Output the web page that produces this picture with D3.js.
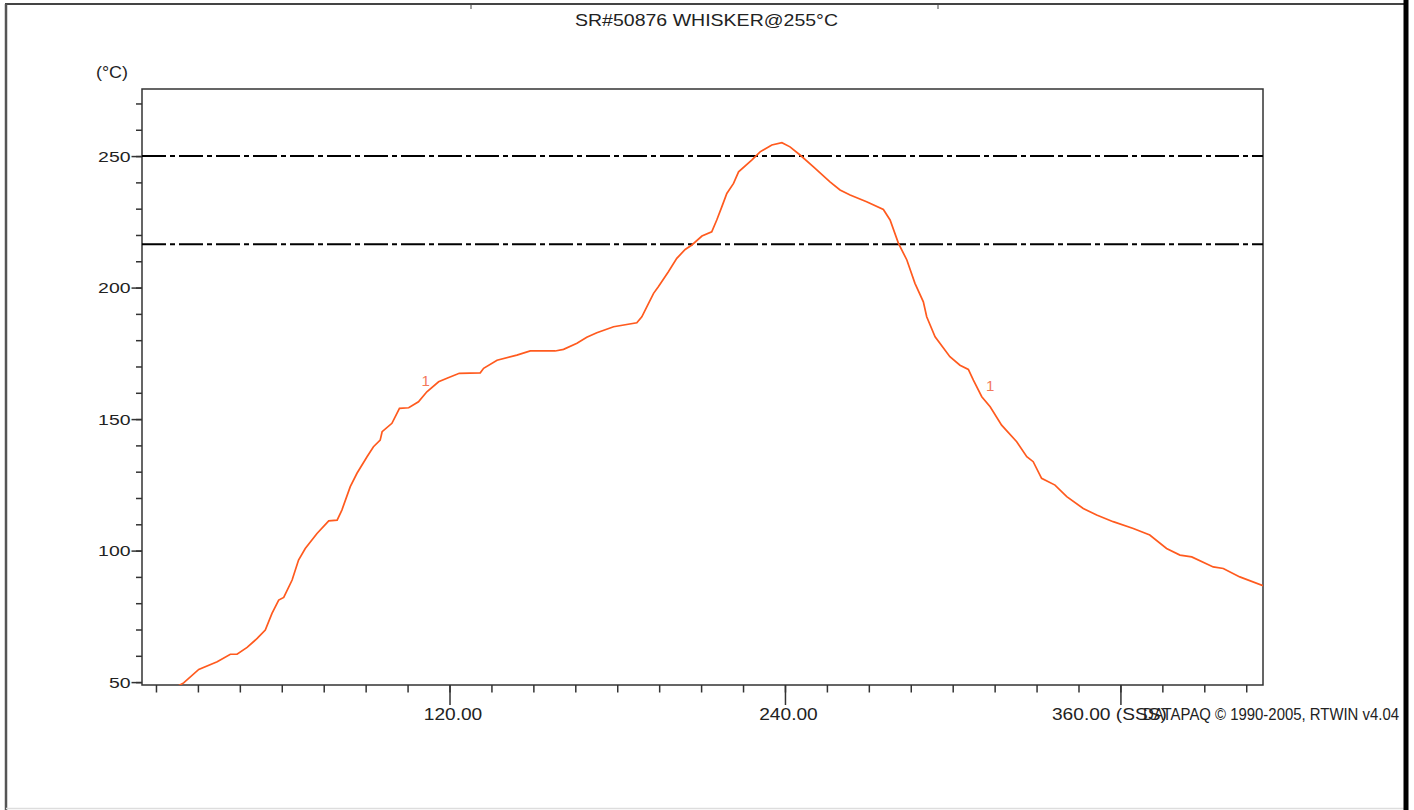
<!DOCTYPE html>
<html>
<head>
<meta charset="utf-8">
<script src="https://cdn.jsdelivr.net/npm/d3@7"></script>
<style>
  html, body { margin: 0; padding: 0; background: #fff; }
  svg { display: block; }
  text { font-family: "Liberation Sans", Arial, sans-serif; fill: #222; }
</style>
</head>
<body>
<script>
// ---- data ----
const timeSec = [22.0, 24.9, 30.3, 36.9, 41.6, 44.0, 47.6, 51.2, 54.1, 56.5, 58.9, 60.7, 63.7, 66.0, 68.4,
  72.6, 76.8, 79.8, 81.5, 84.5, 86.9, 90.5, 92.8, 95.2, 95.9, 99.4, 102.1, 105.4, 108.9, 111.9, 116.1,
  119.1, 123.5, 131.0, 132.2, 137.0, 144.1, 148.9, 157.8, 160.8, 165.6, 169.1, 172.7, 178.7, 187.0,
  188.8, 191.2, 193.0, 194.7, 198.3, 201.3, 204.3, 206.7, 210.3, 213.8, 215.6, 217.4, 219.2, 221.6,
  223.4, 228.1, 231.1, 235.3, 238.9, 241.8, 245.4, 250.2, 256.1, 259.7, 263.3, 269.2, 275.2, 277.6,
  280.6, 283.6, 286.5, 289.5, 290.7, 293.7, 299.0, 302.6, 305.6, 307.4, 310.4, 313.4, 317.5, 322.9,
  326.5, 328.8, 331.8, 336.6, 340.8, 346.7, 351.5, 357.4, 364.6, 370.5, 376.5, 381.3, 385.5, 393.2,
  396.8, 402.7, 411.0];
const tempC = [48.0, 49.7, 54.8, 57.7, 60.6, 60.6, 63.2, 66.6, 69.8, 76.1, 81.2, 82.2, 88.8, 96.4, 100.8,
  106.5, 111.3, 111.6, 115.4, 124.3, 129.4, 135.7, 139.5, 142.0, 145.2, 148.4, 154.1, 154.3, 156.6, 160.4, 164.2,
  165.5, 167.4, 167.6, 169.3, 172.4, 174.3, 175.9, 175.9, 176.5, 178.8, 181.1, 182.8, 185.1, 186.6,
  188.9, 194.0, 197.8, 200.3, 206.0, 211.1, 214.5, 216.2, 219.6, 221.2, 225.7, 230.7, 235.8, 239.6,
  244.0, 248.5, 251.6, 254.2, 255.1, 253.5, 250.4, 245.9, 240.2, 237.1, 235.2, 232.6, 229.7, 225.7,
  216.8, 210.5, 201.6, 194.6, 188.9, 181.3, 173.7, 170.5, 168.9, 164.8, 158.5, 154.7, 147.7, 141.4,
  135.7, 133.8, 127.5, 124.9, 120.5, 116.0, 113.5, 111.0, 108.4, 105.9, 100.8, 98.3, 97.6, 93.8,
  93.2, 90.0, 86.7];
const limitLines = [250, 216.5];
const yMajorTicks = [50, 100, 150, 200, 250];
const yMinorTicks = d3.range(50, 271, 10);
const xMajorTicks = [120, 240, 360];
const xTickLabels = ["120.00", "240.00", "360.00 (SSS)"];
const xMinorTicks = d3.range(15, 411, 15);
const probeLabels = [{t: 111.5, v: 162.5, name: "1"}, {t: 313.4, v: 160.5, name: "1"}];
const titleText = "SR#50876 WHISKER@255°C";
const unitText = "(°C)";
const footerText = "DATAPAQ © 1990-2005, RTWIN v4.04";

// ---- layout ----
const W = 1414, H = 810;
const L = 142, R = 1263, T = 89, B = 685;

const svg = d3.select("body").append("svg").attr("width", W).attr("height", H);

// page frame
svg.append("line").attr("x1", 5).attr("x2", 1406).attr("y1", 4).attr("y2", 4)
  .attr("stroke", "#444").attr("stroke-width", 2);
svg.append("line").attr("x1", 6).attr("x2", 6).attr("y1", 4).attr("y2", 810)
  .attr("stroke", "#555").attr("stroke-width", 2.5);
svg.append("line").attr("x1", 6).attr("x2", 1404).attr("y1", 808.5).attr("y2", 808.5)
  .attr("stroke", "#ddd").attr("stroke-width", 1.5);
svg.append("rect").attr("x", 1403.5).attr("y", 0).attr("width", 5).attr("height", H).attr("fill", "#000");
[471, 938].forEach(px => svg.append("line").attr("x1", px).attr("x2", px).attr("y1", 4).attr("y2", 9)
  .attr("stroke", "#444").attr("stroke-width", 1));

const x = d3.scaleLinear().domain([10, 411]).range([L, R]);
const y = d3.scaleLinear().domain([48.9, 275.5]).range([B, T]);

// title & unit
svg.append("text").attr("x", 706.5).attr("y", 26).attr("text-anchor", "middle")
  .attr("font-size", 17).attr("textLength", 263).attr("lengthAdjust", "spacingAndGlyphs").text(titleText);
svg.append("text").attr("x", 96).attr("y", 78).attr("font-size", 16)
  .attr("textLength", 32).attr("lengthAdjust", "spacingAndGlyphs").text(unitText);

// y axis minor + major
svg.append("g").attr("transform", `translate(${L},0)`)
  .call(d3.axisLeft(y).tickValues(yMinorTicks).tickSize(6).tickFormat(""))
  .call(g => g.select(".domain").remove())
  .call(g => g.selectAll("line").attr("stroke", "#333").attr("stroke-width", 1.5));
svg.append("g").attr("transform", `translate(${L},0)`)
  .call(d3.axisLeft(y).tickValues(yMajorTicks).tickSize(10.5).tickPadding(1).tickFormat(d3.format("d")))
  .call(g => g.select(".domain").remove())
  .call(g => g.selectAll("line").attr("stroke", "#333").attr("stroke-width", 1.5))
  .call(g => g.selectAll("text").attr("font-size", 15.5).attr("fill", "#222")
    .attr("font-family", "'Liberation Sans', Arial, sans-serif")
    .attr("textLength", d => String(d).length * 10.8).attr("lengthAdjust", "spacingAndGlyphs"));

// x axis minor + major
svg.append("g").attr("transform", `translate(0,${B})`)
  .call(d3.axisBottom(x).tickValues(xMinorTicks).tickSize(7.5).tickFormat(""))
  .call(g => g.select(".domain").remove())
  .call(g => g.selectAll("line").attr("stroke", "#333").attr("stroke-width", 1.5));
svg.append("g").attr("transform", `translate(0,${B})`)
  .call(d3.axisBottom(x).tickValues(xMajorTicks).tickSize(20).tickFormat((d, i) => xTickLabels[i]))
  .call(g => g.select(".domain").remove())
  .call(g => g.selectAll("line").attr("stroke", "#333").attr("stroke-width", 1.5))
  .call(g => g.selectAll("text").attr("font-size", 17).attr("fill", "#222")
    .attr("font-family", "'Liberation Sans', Arial, sans-serif")
    .attr("y", 35).attr("dy", 0)
    .each(function(d, i) {
      const s = d3.select(this);
      if (i === xTickLabels.length - 1) {
        s.attr("text-anchor", "start").attr("x", -69).attr("textLength", 115);
      } else {
        s.attr("x", 3).attr("textLength", 58.5);
      }
      s.attr("lengthAdjust", "spacingAndGlyphs");
    }));

// footer
svg.append("text").attr("x", 1143).attr("y", 720).attr("font-size", 17)
  .attr("textLength", 256).attr("lengthAdjust", "spacingAndGlyphs").text(footerText);

// plot frame
svg.append("rect").attr("x", L).attr("y", T).attr("width", R - L).attr("height", B - T)
  .attr("fill", "none").attr("stroke", "#333").attr("stroke-width", 1.5);

// limit lines
svg.selectAll(".limit").data(limitLines).join("line").attr("class", "limit")
  .attr("x1", L).attr("x2", R).attr("y1", d => y(d)).attr("y2", d => y(d))
  .attr("stroke", "#000").attr("stroke-width", 2).attr("stroke-dasharray", "24,4,5,4");

// clip & curve
svg.append("clipPath").attr("id", "plotclip").append("rect")
  .attr("x", L).attr("y", T).attr("width", R - L).attr("height", B - T);
const pts = timeSec.map((t, i) => [t, tempC[i]]);
svg.append("path").datum(pts).attr("clip-path", "url(#plotclip)")
  .attr("fill", "none").attr("stroke", "#ff5a1e").attr("stroke-width", 1.7)
  .attr("d", d3.line().x(d => x(d[0])).y(d => y(d[1])));

// probe labels
svg.selectAll(".probe").data(probeLabels).join("text").attr("class", "probe")
  .attr("x", d => x(d.t)).attr("y", d => y(d.v)).attr("text-anchor", "middle")
  .attr("font-size", 15).style("fill", "#f3785a").text(d => d.name);
</script>
</body>
</html>
